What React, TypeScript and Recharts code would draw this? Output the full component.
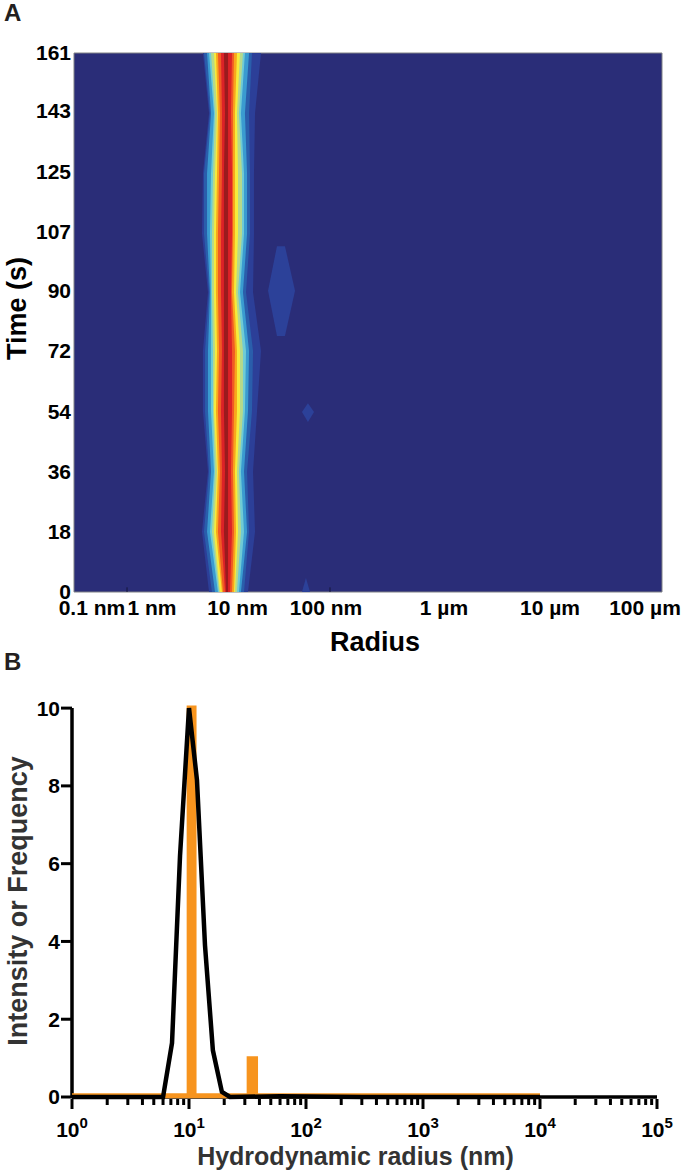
import { Area, ComposedChart, Line, ReferenceArea, ReferenceLine, XAxis, YAxis } from 'recharts';

const FONT = '"Liberation Sans", Arial, sans-serif';

// panel A: contour bands, log10(radius in nm) edges at each time row
const timeRows = [0, 18, 36, 54, 72, 89.5, 107, 125, 143, 161];
const timeTicks = [0, 18, 36, 54, 72, 90, 107.6, 125.5, 143.7, 161];
const timeLabels = ['0', '18', '36', '54', '72', '90', '107', '125', '143', '161'];
const radiusTicks = [-0.267, 0.305, 1.119, 1.962, 3.086, 4.095, 5.0];
const radiusLabels = ['0.1 nm', '1 nm', '10 nm', '100 nm', '1 µm', '10 µm', '100 µm'];
const smallRadiusTicks = [0.067, 2.0];

const left1 = [0.848, 0.781, 0.838, 0.79, 0.79, 0.838, 0.781, 0.79, 0.848, 0.79];
const left2 = [0.876, 0.8, 0.848, 0.81, 0.81, 0.848, 0.8, 0.8, 0.857, 0.8];
const left3 = [0.905, 0.829, 0.867, 0.838, 0.838, 0.857, 0.829, 0.829, 0.867, 0.829];
const left4 = [0.933, 0.857, 0.895, 0.867, 0.867, 0.867, 0.857, 0.867, 0.895, 0.848];
const left5 = [0.943, 0.876, 0.905, 0.886, 0.886, 0.876, 0.876, 0.886, 0.905, 0.867];
const left6 = [0.952, 0.895, 0.924, 0.895, 0.905, 0.895, 0.895, 0.905, 0.924, 0.895];
const left7 = [0.971, 0.914, 0.933, 0.914, 0.924, 0.914, 0.914, 0.924, 0.933, 0.914];
const left8 = [0.981, 0.933, 0.952, 0.933, 0.943, 0.933, 0.933, 0.943, 0.952, 0.933];
const left9 = [1.0, 0.962, 0.971, 0.962, 0.971, 0.962, 0.962, 0.971, 0.971, 0.962];
const left10 = [1.01, 0.99, 1.0, 0.99, 0.99, 0.99, 0.99, 0.99, 1.0, 0.99];

const right1 = [1.219, 1.286, 1.267, 1.305, 1.343, 1.267, 1.276, 1.276, 1.286, 1.343];
const right2 = [1.181, 1.229, 1.21, 1.257, 1.267, 1.2, 1.238, 1.238, 1.229, 1.257];
const right3 = [1.152, 1.21, 1.181, 1.219, 1.229, 1.171, 1.21, 1.21, 1.19, 1.229];
const right4 = [1.133, 1.181, 1.152, 1.19, 1.2, 1.143, 1.181, 1.181, 1.152, 1.19];
const right5 = [1.114, 1.152, 1.133, 1.171, 1.171, 1.124, 1.162, 1.162, 1.133, 1.171];
const right6 = [1.095, 1.124, 1.114, 1.143, 1.143, 1.105, 1.124, 1.124, 1.114, 1.143];
const right7 = [1.086, 1.105, 1.095, 1.114, 1.114, 1.086, 1.095, 1.095, 1.095, 1.114];
const right8 = [1.067, 1.086, 1.076, 1.086, 1.095, 1.067, 1.076, 1.076, 1.076, 1.086];
const right9 = [1.048, 1.067, 1.057, 1.067, 1.067, 1.057, 1.067, 1.067, 1.057, 1.067];
const right10 = [1.029, 1.029, 1.029, 1.029, 1.029, 1.029, 1.029, 1.029, 1.029, 1.029];

const bandColors = ['#2c3f98', '#2a5eab', '#3a9bd0', '#6fcbd5', '#b6d98a', '#f6eb3c', '#f9a61c', '#f05a24', '#dc2227', '#9a1b1e'];
const bandLefts = [left1, left2, left3, left4, left5, left6, left7, left8, left9, left10];
const bandRights = [right1, right2, right3, right4, right5, right6, right7, right8, right9, right10];

const contourRows = timeRows.map((time, i) => {
  const row: Record<string, unknown> = { time };
  bandLefts.forEach((l, b) => {
    row[`band${b}`] = [l[i], bandRights[b][i]];
  });
  return row;
});

// small isolated patches of the lowest level
const lensPatch = [
  { time: 103.3, edge: [1.495, 1.571] },
  { time: 90, edge: [1.41, 1.667] },
  { time: 76.5, edge: [1.495, 1.571] },
];
const diamondPatch = [
  { time: 56.4, edge: [1.79, 1.79] },
  { time: 53.8, edge: [1.733, 1.848] },
  { time: 50.8, edge: [1.79, 1.79] },
];
const trianglePatch = [
  { time: 4.2, edge: [1.771, 1.771] },
  { time: 0, edge: [1.733, 1.81] },
];

// panel B
const decades = [1, 10, 100, 1000, 10000, 100000];
const multiples = [2, 3, 4, 5, 6, 7, 8, 9];
const freqTicks = [0, 2, 4, 6, 8, 10];
const curveRadius = [1, 6, 7.16, 8.38, 10, 11.7, 13.7, 16, 19.1, 22.4, 60, 300, 10000];
const curveValue = [0, 0, 1.39, 6.2, 10, 8.15, 3.9, 1.2, 0.13, 0, 0.02, 0, 0];
const histRadius = [9.55, 9.55, 11.6, 11.6, 31.1, 31.1, 38.9, 38.9];
const histValue = [0, 10.07, 10.07, 0, 0, 1.05, 1.05, 0];
const histBase = [1, 10000];

const curve = curveRadius.map((r, i) => ({ r, v: curveValue[i] }));
const hist = histRadius.map((r, i) => ({ r, v: histValue[i] }));
const base = histBase.map((r) => ({ r, v: 0.03 }));
const xAxisRule = [{ r: 1, v: 0 }, { r: 100000, v: 0 }];
const allTicks = [...decades, ...decades.slice(0, -1).flatMap((d) => multiples.map((m) => d * m))].sort((a, b) => a - b);

function LogTick({ x, y, payload }: any) {
  const major = decades.includes(payload.value);
  return (
    <g>
      <line x1={x} x2={x} y1={y + 2} y2={y + (major ? 12 : 8)} stroke="#000" strokeWidth={3} />
      {major && (
        <text x={x} y={y + 40} textAnchor="middle" fontFamily={FONT} fontWeight="bold" fontSize={21} fill="#000">
          <tspan>10</tspan>
          <tspan dy={-9} fontSize={15}>{Math.round(Math.log10(payload.value))}</tspan>
        </text>
      )}
    </g>
  );
}

export default function App() {
  const panelLabel = { position: 'absolute', left: 4, fontFamily: FONT, fontWeight: 'bold', fontSize: 24, color: '#231f20', lineHeight: 1 } as const;
  return (
    <div style={{ position: 'absolute', left: 0, top: 0, width: 687, height: 1175, background: '#fff' }}>
      <div style={{ ...panelLabel, top: 1 }}>A</div>
      <div style={{ ...panelLabel, top: 650 }}>B</div>

      <div style={{ position: 'absolute', left: 0, top: 0 }}>
        <ComposedChart width={687} height={660} layout="vertical" data={contourRows} margin={{ top: 53, right: 25, bottom: 0, left: 0 }}>
          <XAxis type="number" domain={[-0.438, 5.162]} ticks={radiusTicks} interval={0} tickFormatter={(v) => radiusLabels[radiusTicks.indexOf(v)]}
            height={68} tickLine={false} axisLine={false} tickSize={0} tickMargin={8}
            tick={{ fontFamily: FONT, fontWeight: 'bold', fontSize: 21, fill: '#000' }}
            label={{ value: 'Radius', position: 'insideBottom', offset: 9, dx: 7, style: { fontFamily: FONT, fontWeight: 'bold', fontSize: 27, fill: '#000' } }} />
          <YAxis type="number" dataKey="time" reversed domain={[0, 161]} ticks={timeTicks} interval={0} width={74}
            tickFormatter={(v) => timeLabels[timeTicks.indexOf(v)]}
            tickLine={false} axisLine={false} tickSize={0} tickMargin={3}
            tick={{ fontFamily: FONT, fontWeight: 'bold', fontSize: 21, fill: '#000' }}
            label={{ value: 'Time (s)', angle: -90, position: 'insideLeft', offset: 16, dy: -14, style: { fontFamily: FONT, fontWeight: 'bold', fontSize: 27, fill: '#000', textAnchor: 'middle' } }} />
          <ReferenceArea x1={-0.438} x2={5.162} y1={0} y2={161} fill="#2a2d78" fillOpacity={1} stroke="#808285" />
          {bandColors.map((c, b) => (
            <Area key={c} type="linear" dataKey={`band${b}`} stroke="none" fill={c} fillOpacity={1} dot={false} activeDot={false} isAnimationActive={false} />
          ))}
          <Area type="linear" data={lensPatch} dataKey="edge" stroke="none" fill="#2c4199" fillOpacity={1} dot={false} isAnimationActive={false} />
          <Area type="linear" data={diamondPatch} dataKey="edge" stroke="none" fill="#2c4199" fillOpacity={1} dot={false} isAnimationActive={false} />
          <Area type="linear" data={trianglePatch} dataKey="edge" stroke="none" fill="#2c4199" fillOpacity={1} dot={false} isAnimationActive={false} />
          {smallRadiusTicks.map((r) => (
            <ReferenceLine key={r} segment={[{ x: r, y: 0 }, { x: r, y: 1.4 }]} stroke="#15163a" />
          ))}
        </ComposedChart>
      </div>

      <div style={{ position: 'absolute', left: 0, top: 660 }}>
        <ComposedChart width={687} height={515} margin={{ top: 45, right: 30, bottom: 0, left: 0 }}>
          <XAxis type="number" dataKey="r" scale="log" domain={[1, 100000]} ticks={allTicks} interval={0} height={78}
            tickLine={false} tickSize={0} tickMargin={0} axisLine={false} tick={LogTick}
            label={{ value: 'Hydrodynamic radius (nm)', position: 'insideBottom', offset: 10, dx: -9, style: { fontFamily: FONT, fontWeight: 'bold', fontSize: 25, fill: '#333' } }} />
          <YAxis type="number" domain={[0, 10.08]} ticks={freqTicks} interval={0} width={72} axisLine={false}
            tickSize={11} tickMargin={1} tickLine={{ stroke: '#000', strokeWidth: 3 }}
            tick={{ fontFamily: FONT, fontWeight: 'bold', fontSize: 21, fill: '#000' }}
            label={{ value: 'Intensity or Frequency', angle: -90, position: 'insideLeft', offset: 17, style: { fontFamily: FONT, fontWeight: 'bold', fontSize: 27, fill: '#333', textAnchor: 'middle' } }} />
          <ReferenceLine segment={[{ x: 1, y: 0 }, { x: 1, y: 10 }]} stroke="#000" strokeWidth={3.5} />
          <Line type="linear" data={xAxisRule} dataKey="v" stroke="#000" strokeWidth={3.5} dot={false} isAnimationActive={false} />
          <Area type="linear" data={hist} dataKey="v" stroke="none" fill="#f7941e" fillOpacity={1} dot={false} activeDot={false} isAnimationActive={false} />
          <Line type="linear" data={base} dataKey="v" stroke="#f7941e" strokeWidth={5} dot={false} isAnimationActive={false} />
          <Line type="linear" data={curve} dataKey="v" stroke="#000" strokeWidth={4.5} strokeLinejoin="miter" dot={false} isAnimationActive={false} />
        </ComposedChart>
      </div>
    </div>
  );
}
